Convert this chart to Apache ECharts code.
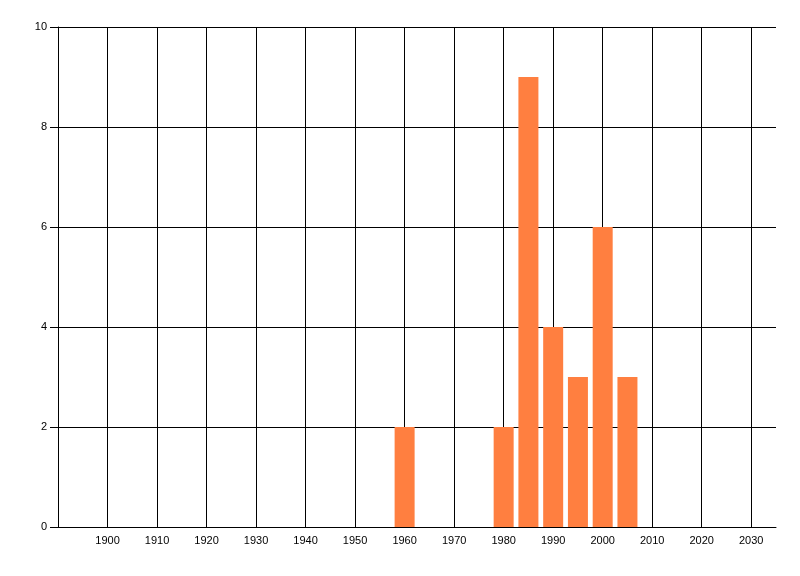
<!DOCTYPE html>
<html>
<head>
<meta charset="utf-8">
<script src="https://cdn.jsdelivr.net/npm/echarts@6/dist/echarts.min.js"></script>
<style>
  html, body { margin: 0; padding: 0; background: #fff; }
  #chart { width: 800px; height: 576px; }
</style>
</head>
<body>
<div id="chart"></div>
<script>
// bar data: year, count
var years = [1960, 1980, 1985, 1990, 1995, 2000, 2005];
var counts = [2, 2, 9, 4, 3, 6, 3];

var xMin = 1890, xMax = 2035, xStep = 10;
var yMin = 0, yMax = 10, yStep = 2;

var barData = [];
for (var i = 0; i < years.length; i++) {
    barData.push([years[i], counts[i]]);
}

var chart = echarts.init(document.getElementById('chart'));
chart.setOption({
    animation: false,
    backgroundColor: '#fff',
    grid: { left: 58, top: 27, right: 24, bottom: 49 },
    xAxis: {
        type: 'value',
        min: xMin,
        max: xMax,
        interval: xStep,
        axisLine: { show: true, lineStyle: { color: '#000', width: 1 } },
        axisTick: { show: false },
        axisLabel: {
            color: '#000',
            fontFamily: 'Liberation Sans',
            fontSize: 11,
            margin: 8,
            showMinLabel: false,
            showMaxLabel: false,
            formatter: function (v) { return v % 10 === 0 ? String(v) : ''; }
        },
        splitLine: {
            show: true,
            showMinLine: false,
            showMaxLine: false,
            lineStyle: { color: '#000', width: 1 }
        }
    },
    yAxis: {
        type: 'value',
        min: yMin,
        max: yMax,
        interval: yStep,
        axisLine: { show: true, lineStyle: { color: '#000', width: 1 } },
        axisTick: { show: true, length: 8, lineStyle: { color: '#000' } },
        axisLabel: {
            color: '#000',
            fontFamily: 'Liberation Sans',
            fontSize: 11,
            margin: 11
        },
        splitLine: { show: true, lineStyle: { color: '#000', width: 1 } }
    },
    series: [{
        type: 'bar',
        barWidth: 20,
        itemStyle: { color: '#ff7f40' },
        data: barData
    }]
});
</script>
</body>
</html>
